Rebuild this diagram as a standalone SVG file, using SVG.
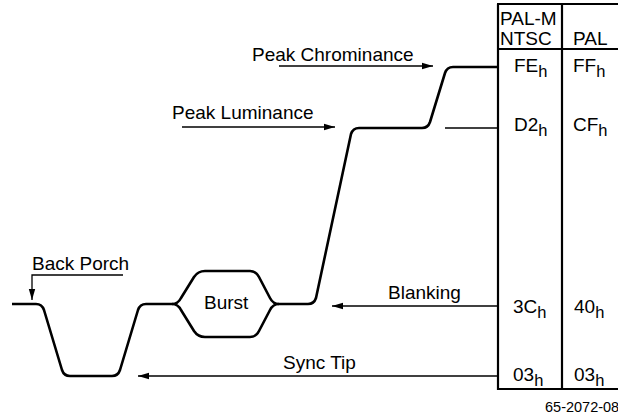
<svg xmlns="http://www.w3.org/2000/svg" width="618" height="418" viewBox="0 0 618 418">
<defs>
<marker id="ah" markerWidth="12" markerHeight="8" refX="11" refY="4" orient="auto" markerUnits="userSpaceOnUse">
<path d="M0,0.8 L11,4 L0,7.2 Z" fill="#000"/>
</marker>
<style>
text{font-family:"Liberation Sans",Arial,sans-serif;font-size:19px;fill:#000}
.sub{font-size:16.5px}
.tbl{stroke:#000;stroke-width:2.2;fill:none}
.wave{stroke:#000;stroke-width:2.6;fill:none;stroke-linejoin:round}
.conn{stroke:#000;stroke-width:1.3;fill:none}
.foot{font-size:14.5px}
</style>
</defs>
<rect width="618" height="418" fill="#fff"/>

<g id="table">
<path class="tbl" d="M498,4 V390 M562,4 V390 M497,4 H618 M497,49 H618 M497,389 H618"/>
<text x="500" y="25">PAL-M</text>
<text x="500" y="45">NTSC</text>
<text x="573" y="45">PAL</text>
<text x="514" y="72">FE<tspan class="sub" dy="5">h</tspan></text>
<text x="573" y="72">FF<tspan class="sub" dy="5">h</tspan></text>
<text x="514" y="131">D2<tspan class="sub" dy="5">h</tspan></text>
<text x="573" y="131">CF<tspan class="sub" dy="5">h</tspan></text>
<text x="513" y="313">3C<tspan class="sub" dy="5">h</tspan></text>
<text x="574" y="313">40<tspan class="sub" dy="5">h</tspan></text>
<text x="513" y="381">03<tspan class="sub" dy="5">h</tspan></text>
<text x="574" y="381">03<tspan class="sub" dy="5">h</tspan></text>
</g>

<g id="waveform">
<path class="wave" d="M12,304 H36 Q42,304 44,310 L62,370 Q64,376 70,376 H112 Q118,376 120,370 L138,310 Q140,304 146,304 H172 Q178,304 181,298 L194,277 Q198,271 205,271 H250 Q256,271 259,277 L270,298 Q273,304 279,304 H308 Q314,304 316,298 L351,134 Q353,128 359,128 H422 Q428,128 430,122 L445,73 Q447,67 453,67 H498"/>
<path class="wave" d="M172,304 Q178,304 181,310 L194,331 Q198,337 205,337 H250 Q256,337 259,331 L270,310 Q273,304 279,304"/>
</g>

<g id="burst">
<text x="204" y="309">Burst</text>
</g>

<g id="connectors">
<line class="conn" x1="279" y1="66" x2="433" y2="66" marker-end="url(#ah)"/>
<line class="conn" x1="182" y1="127" x2="335" y2="127" marker-end="url(#ah)"/>
<polyline class="conn" points="123,275 32,275 32,300" marker-end="url(#ah)"/>
<line class="conn" x1="445" y1="128" x2="498" y2="128"/>
<line class="conn" x1="498" y1="306" x2="332" y2="306" marker-end="url(#ah)"/>
<line class="conn" x1="498" y1="376" x2="138" y2="376" marker-end="url(#ah)"/>
</g>

<g id="labels">
<text x="252" y="61">Peak Chrominance</text>
<text x="172" y="119">Peak Luminance</text>
<text x="32" y="270">Back Porch</text>
<text x="388" y="299">Blanking</text>
<text x="283" y="369">Sync Tip</text>
<text class="foot" x="545" y="412">65-2072-08</text>
</g>
</svg>
